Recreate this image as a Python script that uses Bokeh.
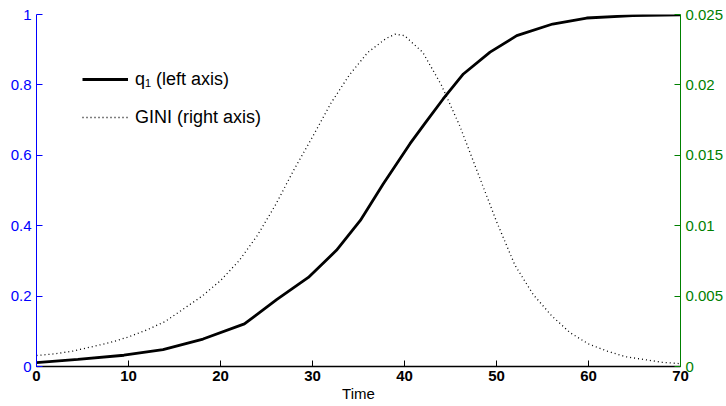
from bokeh.plotting import figure
from bokeh.models import (Range1d, LinearAxis, FixedTicker, CustomJSTickFormatter,
                          Legend, LegendItem)
from bokeh.embed import file_html
from bokeh.resources import INLINE

# q1 (left axis)
q1_time = [0, 4.5, 9.5, 13.75, 18.1, 22.6, 26.1, 29.55, 32.6, 35.2, 37.7, 40.6,
           42.2, 44.2, 46.4, 49.3, 52.2, 56.1, 59.8, 64.8, 70]
q1_vals = [0.011, 0.02, 0.032, 0.048, 0.078, 0.121, 0.19, 0.253, 0.33, 0.415, 0.519,
           0.633, 0.69, 0.76, 0.831, 0.893, 0.94, 0.973, 0.99, 0.997, 0.999]

# GINI (right axis)
gini_time = [0, 2, 4, 6, 8, 10, 12, 14, 16, 18, 20, 22, 24, 26, 28, 30, 32, 34, 36,
             38, 39, 40, 42, 44, 46, 48, 50, 52, 54, 56, 58, 60, 62, 64, 66, 68, 70]
gini_vals = [0.00078, 0.0009, 0.0011, 0.0014, 0.0017, 0.0021, 0.0026, 0.0032, 0.0041,
             0.0050, 0.0061, 0.0075, 0.0093, 0.0115, 0.0140, 0.0163, 0.0187, 0.0207,
             0.0223, 0.0233, 0.0236, 0.0235, 0.0223, 0.0200, 0.0171, 0.0137, 0.0103,
             0.0072, 0.0051, 0.0036, 0.0024, 0.0016, 0.0011, 0.0007, 0.0005, 0.0003,
             0.0002]

x_ticks = [0, 10, 20, 30, 40, 50, 60, 70]
left_ticks = [0, 0.2, 0.4, 0.6, 0.8, 1.0]
right_ticks = [0, 0.005, 0.01, 0.015, 0.02, 0.025]

FONT = "Liberation Sans"
BLUE = "#0000ff"
GREEN = "#008000"

p = figure(width=726, height=406, output_backend="svg", toolbar_location=None,
           x_range=Range1d(0, 70), y_range=Range1d(0, 1),
           min_border_left=36, min_border_right=45, min_border_top=14,
           min_border_bottom=40, y_axis_location=None)
p.extra_y_ranges = {"gini": Range1d(0, 0.025)}
p.outline_line_color = None
p.xgrid.visible = False
p.ygrid.visible = False
p.background_fill_color = "white"
p.border_fill_color = "white"

left = LinearAxis(ticker=FixedTicker(ticks=left_ticks),
                  formatter=CustomJSTickFormatter(code="return String(Number(tick.toFixed(4)));"))
right = LinearAxis(y_range_name="gini", ticker=FixedTicker(ticks=right_ticks),
                   formatter=CustomJSTickFormatter(code="return String(Number(tick.toFixed(4)));"))
for ax, col in ((left, BLUE), (right, GREEN)):
    ax.axis_line_color = col
    ax.major_tick_line_color = col
    ax.major_label_text_color = col
    ax.major_label_text_font = FONT
    ax.major_label_text_font_size = "15px"
    ax.major_tick_in = 6
    ax.major_tick_out = 0
    ax.minor_tick_line_color = None
    ax.major_label_standoff = 5
p.add_layout(left, "left")
p.add_layout(right, "right")

xa = p.xaxis[0]
xa.ticker = FixedTicker(ticks=x_ticks)
xa.axis_label = "Time"
xa.axis_label_text_font = FONT
xa.axis_label_text_font_size = "15px"
xa.axis_label_text_font_style = "normal"
xa.axis_label_text_color = "black"
xa.axis_label_standoff = 1
xa.major_label_text_font = FONT
xa.major_label_text_font_size = "15px"
xa.major_label_text_font_style = "bold"
xa.major_label_text_color = "black"
xa.major_label_standoff = 4
xa.major_tick_in = 6
xa.major_tick_out = 0
xa.minor_tick_line_color = None
xa.axis_line_color = "black"
xa.axis_line_width = 1.5

r1 = p.line(q1_time, q1_vals, line_color="black", line_width=2.8)
r2 = p.line(gini_time, gini_vals, y_range_name="gini", line_color="black",
            line_width=1.3, line_dash="1 3")

legend = Legend(items=[LegendItem(label="q\u2081 (left axis)", renderers=[r1]),
                       LegendItem(label="GINI (right axis)", renderers=[r2])],
                location="top_left")
legend.border_line_color = None
legend.background_fill_alpha = 0
legend.margin = 46
legend.padding = 0
legend.glyph_width = 46
legend.glyph_height = 38
legend.label_height = 38
legend.spacing = 0
legend.label_standoff = 7
legend.label_text_font = FONT
legend.label_text_font_size = "18px"
legend.label_text_color = "black"
p.add_layout(legend, "center")

open("out.html", "w").write(file_html(p, INLINE))
